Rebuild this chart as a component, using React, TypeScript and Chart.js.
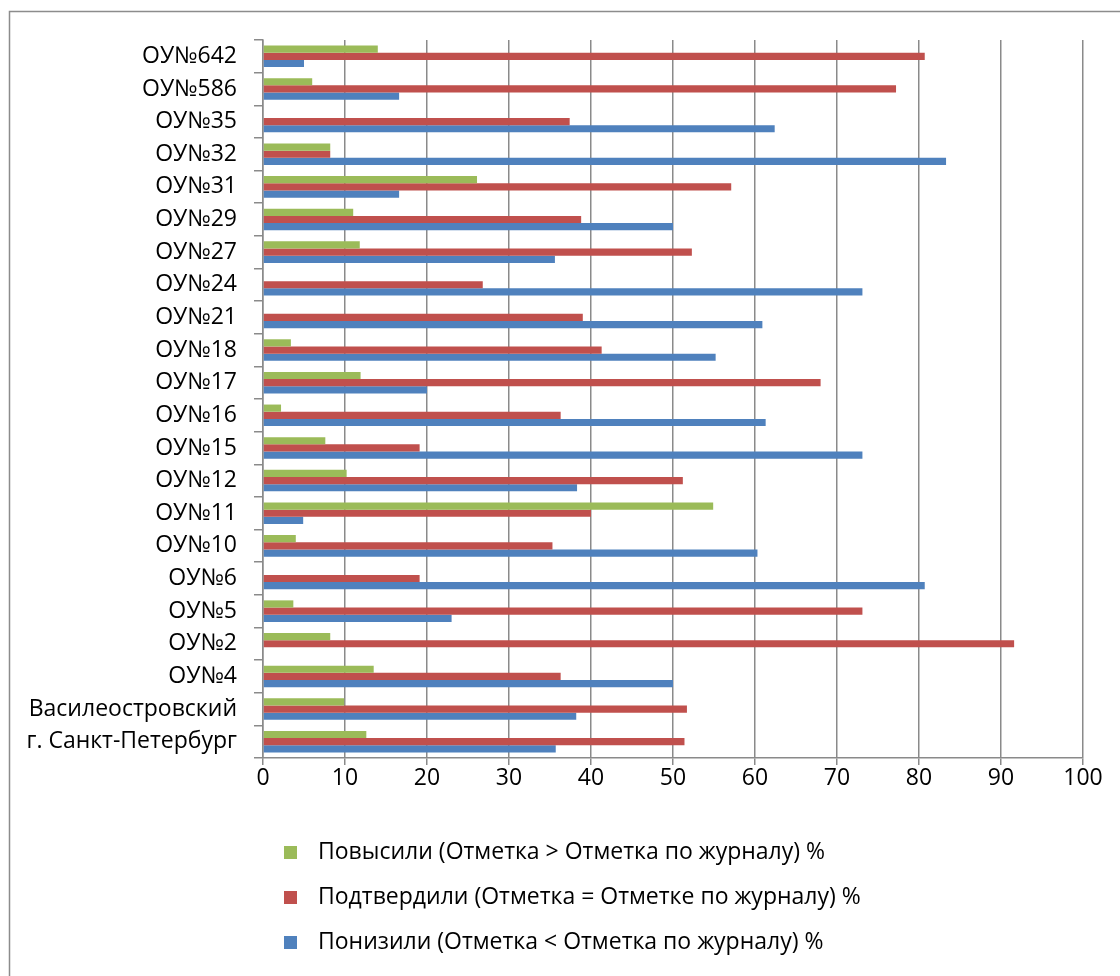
import React, { useEffect, useRef } from "react";
import { Chart, registerables } from "chart.js";

Chart.register(...registerables);

const categories = [
  "ОУ№642", "ОУ№586", "ОУ№35", "ОУ№32", "ОУ№31", "ОУ№29", "ОУ№27", "ОУ№24",
  "ОУ№21", "ОУ№18", "ОУ№17", "ОУ№16", "ОУ№15", "ОУ№12", "ОУ№11", "ОУ№10",
  "ОУ№6", "ОУ№5", "ОУ№2", "ОУ№4", "Василеостровский", "г. Санкт-Петербург",
];

const raisedLabel = "Повысили (Отметка > Отметка по журналу) %";
const confirmedLabel = "Подтвердили (Отметка = Отметке по журналу) %";
const loweredLabel = "Понизили (Отметка < Отметка по журналу) %";

const raised = [14.0, 6.0, 0, 8.2, 26.1, 11.0, 11.8, 0, 0, 3.4, 11.9, 2.2, 7.6, 10.2, 54.9, 4.0, 0, 3.7, 8.2, 13.5, 9.9, 12.6];
const confirmed = [80.7, 77.2, 37.4, 8.2, 57.1, 38.8, 52.3, 26.8, 39.0, 41.3, 68.0, 36.3, 19.1, 51.2, 40.0, 35.3, 19.1, 73.1, 91.6, 36.3, 51.7, 51.4];
const lowered = [5.0, 16.6, 62.4, 83.3, 16.6, 50.0, 35.6, 73.1, 60.9, 55.2, 20.0, 61.3, 73.1, 38.3, 4.9, 60.3, 80.7, 23.0, 0, 50.0, 38.2, 35.7];

const xMin = 0;
const xMax = 100;
const xStep = 10;

const GREEN = "#9BBB59";
const RED = "#C0504D";
const BLUE = "#4F81BD";
const GRID = "#8a8a8a";
const FONT = "'Open Sans', 'Noto Sans', sans-serif";
const FONT_SIZE = 23;

const framePlugin = {
  id: "frameAndLegend",
  afterDraw(chart: any) {
    const ctx = chart.ctx;
    ctx.save();
    ctx.strokeStyle = "#8c8c8c";
    ctx.lineWidth = 1.5;
    ctx.beginPath();
    ctx.moveTo(9.5, 2000);
    ctx.lineTo(9.5, 11.5);
    ctx.lineTo(2000, 11.5);
    ctx.stroke();
    const datasets = chart.data.datasets;
    ctx.font = `${FONT_SIZE}px ${FONT}`;
    ctx.textBaseline = "middle";
    ctx.textAlign = "left";
    datasets.forEach((ds: any, i: number) => {
      const y = 852 + 45 * i;
      ctx.fillStyle = ds.backgroundColor;
      ctx.fillRect(284, y - 6, 13, 13);
      ctx.fillStyle = "#000";
      ctx.fillText(ds.label, 318, y);
    });
    ctx.restore();
  },
};

export default function App() {
  const canvasRef = useRef<HTMLCanvasElement | null>(null);

  useEffect(() => {
    if (!canvasRef.current) return;
    const chart = new Chart(canvasRef.current, {
      type: "bar",
      data: {
        labels: categories,
        datasets: [
          { label: raisedLabel, data: raised, backgroundColor: GREEN },
          { label: confirmedLabel, data: confirmed, backgroundColor: RED },
          { label: loweredLabel, data: lowered, backgroundColor: BLUE },
        ],
      },
      options: {
        indexAxis: "y",
        animation: false,
        responsive: false,
        maintainAspectRatio: false,
        layout: { padding: { top: 40, right: 37, left: 0, bottom: 0 } },
        datasets: {
          bar: { categoryPercentage: 0.66, barPercentage: 1.0 },
        },
        plugins: {
          legend: { display: false },
          tooltip: { enabled: false },
        },
        scales: {
          x: {
            min: xMin,
            max: xMax,
            ticks: {
              stepSize: xStep,
              color: "#000",
              font: { family: FONT, size: FONT_SIZE },
              padding: 0,
            },
            grid: {
              color: GRID,
              lineWidth: 1.5,
              tickLength: 7,
              drawTicks: true,
            },
            border: { display: true, color: GRID, width: 1.5 },
            afterFit(scale: any) {
              scale.height = 218;
            },
          },
          y: {
            ticks: {
              color: "#000",
              font: { family: FONT, size: FONT_SIZE },
              padding: 17,
              autoSkip: false,
            },
            grid: {
              drawOnChartArea: false,
              drawTicks: true,
              tickLength: 9,
              color: GRID,
              lineWidth: 1.5,
              offset: true,
            },
            border: { display: true, color: GRID, width: 1.5 },
            afterFit(scale: any) {
              scale.width = 263;
            },
          },
        },
      },
      plugins: [framePlugin],
    });
    return () => chart.destroy();
  }, []);

  return (
    <div style={{ position: "absolute", left: 0, top: 0, width: 1120, height: 976, background: "#fff" }}>
      <canvas ref={canvasRef} width={1120} height={976} style={{ display: "block" }} />
    </div>
  );
}
